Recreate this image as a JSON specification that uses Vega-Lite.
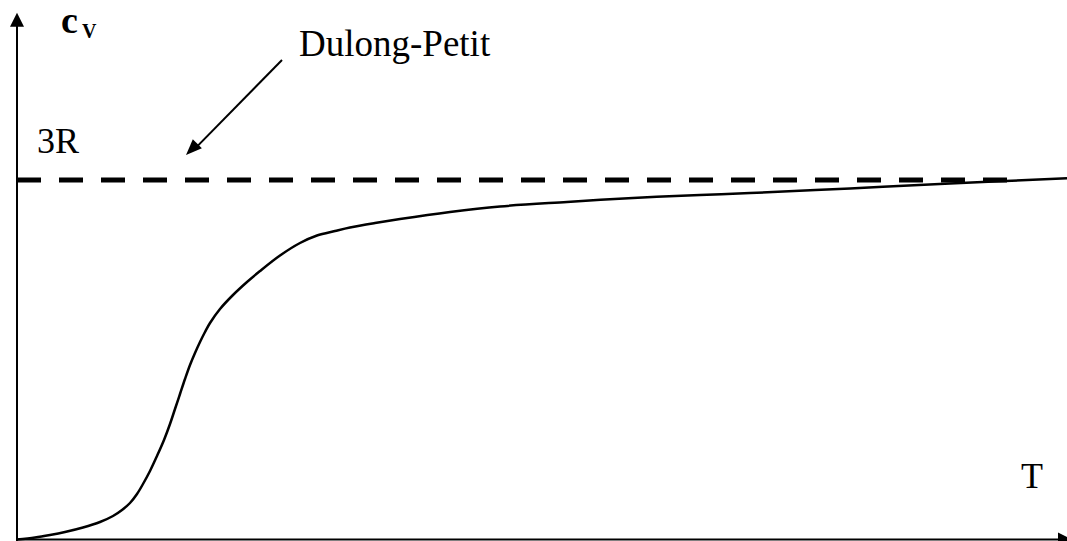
{
  "$schema": "https://vega.github.io/schema/vega-lite/v6.json",
  "width": 1067,
  "height": 541,
  "autosize": {"type": "none"},
  "padding": 0,
  "background": "white",
  "config": {"view": {"stroke": null}},
  "datasets": {
    "curve": [
      {"T": 0, "cv": 0},
      {"T": 18, "cv": 0.0167},
      {"T": 33, "cv": 0.0376},
      {"T": 48, "cv": 0.0626},
      {"T": 66, "cv": 0.1001},
      {"T": 83, "cv": 0.146},
      {"T": 96, "cv": 0.1961},
      {"T": 105, "cv": 0.2462},
      {"T": 113, "cv": 0.3046},
      {"T": 120, "cv": 0.3797},
      {"T": 126, "cv": 0.4631},
      {"T": 133, "cv": 0.5716},
      {"T": 140, "cv": 0.6968},
      {"T": 147, "cv": 0.8303},
      {"T": 153, "cv": 0.9638},
      {"T": 158, "cv": 1.089},
      {"T": 163, "cv": 1.2142},
      {"T": 168, "cv": 1.3394},
      {"T": 173, "cv": 1.4562},
      {"T": 178, "cv": 1.5563},
      {"T": 183, "cv": 1.6481},
      {"T": 188, "cv": 1.7316},
      {"T": 193, "cv": 1.8067},
      {"T": 203, "cv": 1.9235},
      {"T": 216, "cv": 2.0403},
      {"T": 230, "cv": 2.1488},
      {"T": 243, "cv": 2.2406},
      {"T": 263, "cv": 2.37},
      {"T": 283, "cv": 2.4743},
      {"T": 300, "cv": 2.5369},
      {"T": 318, "cv": 2.5744},
      {"T": 333, "cv": 2.6036},
      {"T": 358, "cv": 2.6412},
      {"T": 383, "cv": 2.6746},
      {"T": 433, "cv": 2.733},
      {"T": 483, "cv": 2.7789},
      {"T": 550, "cv": 2.8164},
      {"T": 616, "cv": 2.8498},
      {"T": 683, "cv": 2.8749},
      {"T": 733, "cv": 2.8915},
      {"T": 833, "cv": 2.9291},
      {"T": 933, "cv": 2.9708},
      {"T": 1050, "cv": 3.0142}
    ],
    "dulongPetit": [{"T": 0, "T2": 991, "cv": 3}],
    "yAxis": [{"T": 0, "cv": -0.0125, "cv2": 4.3}],
    "xAxis": [{"T": 0, "T2": 1043, "cv": 0}],
    "yArrow": [{"T": 0, "cv": 4.338}],
    "xArrow": [{"T": 1048, "cv": 0}],
    "pointer": [{"T": 265, "cv": 4.0015, "T2": 176, "cv2": 3.245}],
    "pointerHead": [{"T": 174.7, "cv": 3.256}],
    "labels": [
      {"T": 20, "cv": 3.2254, "label": "3R"},
      {"T": 1004, "cv": 0.4298, "label": "T"}
    ],
    "titleLabel": [{"T": 282, "cv": 4.0374, "label": "Dulong-Petit"}],
    "cLabel": [{"T": 44, "cv": 4.224, "label": "c"}],
    "vLabel": [{"T": 65, "cv": 4.183, "label": "V"}]
  },
  "layer": [
    {
      "data": {"name": "dulongPetit"},
      "mark": {"type": "rule", "color": "black", "strokeWidth": 5, "strokeDash": [24, 18], "strokeCap": "butt"},
      "encoding": {
        "x": {"field": "T", "type": "quantitative", "scale": {"domain": [-17, 1050], "nice": false, "zero": false}, "axis": null},
        "x2": {"field": "T2"},
        "y": {"field": "cv", "type": "quantitative", "scale": {"domain": [-0.0125, 4.502], "nice": false, "zero": false}, "axis": null}
      }
    },
    {
      "data": {"name": "curve"},
      "mark": {"type": "line", "color": "black", "strokeWidth": 2.5, "interpolate": "catmull-rom"},
      "encoding": {
        "x": {"field": "T", "type": "quantitative", "scale": {"domain": [-17, 1050], "nice": false, "zero": false}, "axis": null},
        "y": {"field": "cv", "type": "quantitative", "scale": {"domain": [-0.0125, 4.502], "nice": false, "zero": false}, "axis": null}
      }
    },
    {
      "data": {"name": "yAxis"},
      "mark": {"type": "rule", "color": "black", "strokeWidth": 2},
      "encoding": {
        "x": {"field": "T", "type": "quantitative", "scale": {"domain": [-17, 1050], "nice": false, "zero": false}, "axis": null},
        "y": {"field": "cv", "type": "quantitative", "scale": {"domain": [-0.0125, 4.502], "nice": false, "zero": false}, "axis": null},
        "y2": {"field": "cv2"}
      }
    },
    {
      "data": {"name": "xAxis"},
      "mark": {"type": "rule", "color": "black", "strokeWidth": 2},
      "encoding": {
        "x": {"field": "T", "type": "quantitative", "scale": {"domain": [-17, 1050], "nice": false, "zero": false}, "axis": null},
        "x2": {"field": "T2"},
        "y": {"field": "cv", "type": "quantitative", "scale": {"domain": [-0.0125, 4.502], "nice": false, "zero": false}, "axis": null}
      }
    },
    {
      "data": {"name": "yArrow"},
      "mark": {"type": "point", "shape": "M0,-1L1,1L-1,1Z", "size": 196, "filled": true, "color": "black", "opacity": 1, "strokeWidth": 0},
      "encoding": {
        "x": {"field": "T", "type": "quantitative", "scale": {"domain": [-17, 1050], "nice": false, "zero": false}, "axis": null},
        "y": {"field": "cv", "type": "quantitative", "scale": {"domain": [-0.0125, 4.502], "nice": false, "zero": false}, "axis": null}
      }
    },
    {
      "data": {"name": "xArrow"},
      "mark": {"type": "point", "shape": "M0,-1L1,1L-1,1Z", "size": 196, "angle": 90, "filled": true, "color": "black", "opacity": 1, "strokeWidth": 0},
      "encoding": {
        "x": {"field": "T", "type": "quantitative", "scale": {"domain": [-17, 1050], "nice": false, "zero": false}, "axis": null},
        "y": {"field": "cv", "type": "quantitative", "scale": {"domain": [-0.0125, 4.502], "nice": false, "zero": false}, "axis": null}
      }
    },
    {
      "data": {"name": "pointer"},
      "mark": {"type": "rule", "color": "black", "strokeWidth": 2},
      "encoding": {
        "x": {"field": "T", "type": "quantitative", "scale": {"domain": [-17, 1050], "nice": false, "zero": false}, "axis": null},
        "x2": {"field": "T2"},
        "y": {"field": "cv", "type": "quantitative", "scale": {"domain": [-0.0125, 4.502], "nice": false, "zero": false}, "axis": null},
        "y2": {"field": "cv2"}
      }
    },
    {
      "data": {"name": "pointerHead"},
      "mark": {"type": "point", "shape": "M0,-1L0.8,1L-0.8,1Z", "size": 256, "angle": 225, "filled": true, "color": "black", "opacity": 1, "strokeWidth": 0},
      "encoding": {
        "x": {"field": "T", "type": "quantitative", "scale": {"domain": [-17, 1050], "nice": false, "zero": false}, "axis": null},
        "y": {"field": "cv", "type": "quantitative", "scale": {"domain": [-0.0125, 4.502], "nice": false, "zero": false}, "axis": null}
      }
    },
    {
      "data": {"name": "labels"},
      "mark": {"type": "text", "font": "Liberation Serif", "fontSize": 36, "align": "left", "baseline": "alphabetic", "color": "black"},
      "encoding": {
        "x": {"field": "T", "type": "quantitative", "scale": {"domain": [-17, 1050], "nice": false, "zero": false}, "axis": null},
        "y": {"field": "cv", "type": "quantitative", "scale": {"domain": [-0.0125, 4.502], "nice": false, "zero": false}, "axis": null},
        "text": {"field": "label"}
      }
    },
    {
      "data": {"name": "titleLabel"},
      "mark": {"type": "text", "font": "Liberation Serif", "fontSize": 37, "align": "left", "baseline": "alphabetic", "color": "black"},
      "encoding": {
        "x": {"field": "T", "type": "quantitative", "scale": {"domain": [-17, 1050], "nice": false, "zero": false}, "axis": null},
        "y": {"field": "cv", "type": "quantitative", "scale": {"domain": [-0.0125, 4.502], "nice": false, "zero": false}, "axis": null},
        "text": {"field": "label"}
      }
    },
    {
      "data": {"name": "cLabel"},
      "mark": {"type": "text", "font": "Liberation Serif", "fontSize": 38, "fontWeight": "bold", "align": "left", "baseline": "alphabetic", "color": "black"},
      "encoding": {
        "x": {"field": "T", "type": "quantitative", "scale": {"domain": [-17, 1050], "nice": false, "zero": false}, "axis": null},
        "y": {"field": "cv", "type": "quantitative", "scale": {"domain": [-0.0125, 4.502], "nice": false, "zero": false}, "axis": null},
        "text": {"field": "label"}
      }
    },
    {
      "data": {"name": "vLabel"},
      "mark": {"type": "text", "font": "Liberation Serif", "fontSize": 20, "fontWeight": "bold", "align": "left", "baseline": "alphabetic", "color": "black"},
      "encoding": {
        "x": {"field": "T", "type": "quantitative", "scale": {"domain": [-17, 1050], "nice": false, "zero": false}, "axis": null},
        "y": {"field": "cv", "type": "quantitative", "scale": {"domain": [-0.0125, 4.502], "nice": false, "zero": false}, "axis": null},
        "text": {"field": "label"}
      }
    }
  ]
}
